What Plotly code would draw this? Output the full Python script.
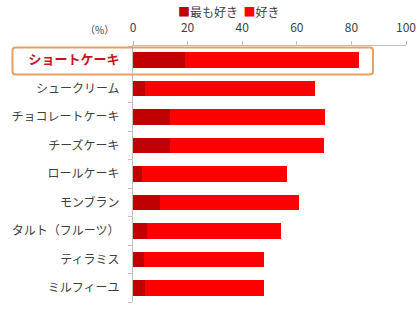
import plotly.graph_objects as go

categories = ["ショートケーキ", "シュークリーム", "チョコレートケーキ", "チーズケーキ",
              "ロールケーキ", "モンブラン", "タルト（フルーツ）", "ティラミス", "ミルフィーユ"]
most_fav = [18.9, 4.5, 13.4, 13.7, 3.2, 9.8, 5.3, 3.9, 4.3]
fav = [63.8, 62.0, 56.8, 56.1, 53.2, 51.0, 48.8, 44.0, 43.6]
x_ticks = [0, 20, 40, 60, 80, 100]
series_names = ["最も好き", "好き"]
series_colors = ["#C00000", "#FF0000"]
highlight = "ショートケーキ"

FONT = "Noto Sans CJK JP"

tick_text = [
    f"<b><span style='color:#C8161D;font-size:13px'>{c}</span></b>" if c == highlight else c
    for c in categories
]

fig = go.Figure()
fig.add_trace(go.Bar(y=categories, x=most_fav, orientation="h", name=series_names[0],
                     marker=dict(color=series_colors[0], line=dict(width=0))))
fig.add_trace(go.Bar(y=categories, x=fav, orientation="h", name=series_names[1],
                     marker=dict(color=series_colors[1], line=dict(width=0))))

W, H = 420, 310
L, R, T, B = 133, 14, 46, 8
pw, ph = W - L - R, H - T - B

def px2paper(x, y):
    return (x - L) / pw, (H - B - y) / ph

def P(x, y):
    a, b = px2paper(x, y)
    return f"{a:.5f},{b:.5f}"

# rounded highlight box around the first row
x0, y0, x1, y1, r = 12.5, 47.5, 373, 74.5, 3
path = (f"M {P(x0 + r, y0)} L {P(x1 - r, y0)} Q {P(x1, y0)} {P(x1, y0 + r)} "
        f"L {P(x1, y1 - r)} Q {P(x1, y1)} {P(x1 - r, y1)} "
        f"L {P(x0 + r, y1)} Q {P(x0, y1)} {P(x0, y1 - r)} "
        f"L {P(x0, y0 + r)} Q {P(x0, y0)} {P(x0 + r, y0)} Z")
fig.add_shape(type="path", path=path, xref="paper", yref="paper",
              line=dict(color="#E9A060", width=2))

fig.add_annotation(text="（%）", xref="paper", yref="paper",
                   x=px2paper(99, 0)[0], y=px2paper(0, 29)[1],
                   showarrow=False, xanchor="center", yanchor="middle",
                   font=dict(family=FONT, size=10, color="#404040"))

# compact legend drawn as text
legend_text = "  ".join(
    f"<span style='color:{c}'>■</span>{n}" for n, c in zip(series_names, series_colors)
)
fig.add_annotation(text=legend_text, xref="paper", yref="paper",
                   x=px2paper(228, 0)[0], y=px2paper(0, 11)[1],
                   showarrow=False, xanchor="center", yanchor="middle",
                   font=dict(family=FONT, size=12, color="#404040"))

fig.update_layout(
    width=W, height=H,
    margin=dict(l=L, r=R, t=T, b=B, autoexpand=False),
    barmode="stack", bargap=0.45,
    plot_bgcolor="white", paper_bgcolor="white",
    font=dict(family=FONT, size=12, color="#404040"),
    showlegend=False,
    xaxis=dict(side="top", range=[0, 100], tickvals=x_ticks, automargin=False,
               ticks="outside", ticklen=4, tickcolor="#BFBFBF",
               showline=True, linecolor="#BFBFBF", linewidth=1,
               showgrid=False, zeroline=False, ticklabelstandoff=4,
               tickfont=dict(family=FONT, size=12, color="#404040")),
    yaxis=dict(categoryorder="array", categoryarray=categories, autorange="reversed",
               tickmode="array", tickvals=categories, ticktext=tick_text, automargin=False,
               ticks="outside", ticklen=4, tickcolor="#BFBFBF", tickson="boundaries",
               showline=True, linecolor="#BFBFBF", linewidth=1,
               showgrid=False, zeroline=False, ticklabelstandoff=10,
               tickfont=dict(family=FONT, size=12, color="#404040")),
)

fig.write_html("out.html")
